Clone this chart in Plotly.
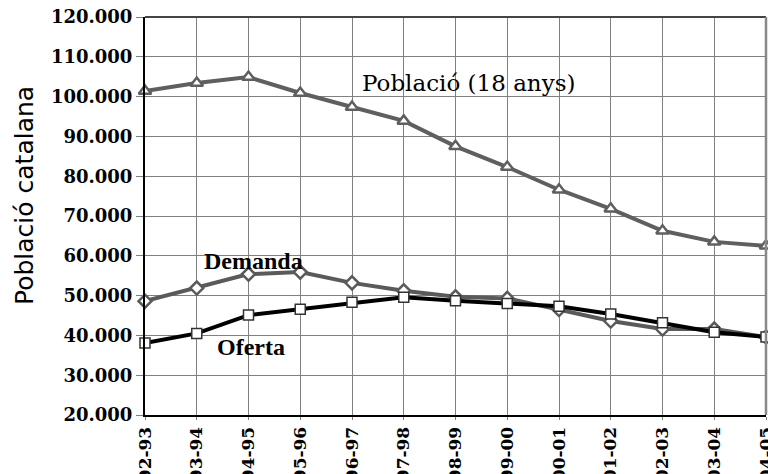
import plotly.graph_objects as go

cursos = ["92-93", "93-94", "94-95", "95-96", "96-97", "97-98", "98-99",
          "99-00", "00-01", "01-02", "02-03", "03-04", "04-05"]
poblacio = [101400, 103400, 104900, 100900, 97400, 93900, 87500,
            82300, 76600, 71800, 66300, 63500, 62500]
demanda = [48600, 51900, 55400, 55900, 53200, 51200, 49700,
           49300, 46500, 43600, 41600, 41600, 39600]
oferta = [38100, 40500, 45100, 46600, 48300, 49600, 48700,
          48000, 47300, 45400, 43200, 40800, 39600]

fig = go.Figure()
fig.add_trace(go.Scatter(
    x=cursos, y=poblacio, mode="lines+markers", name="Població (18 anys)",
    line=dict(color="#5f5f5f", width=4),
    marker=dict(symbol="triangle-up", size=11, color="white",
                line=dict(color="#5f5f5f", width=2.5)),
    cliponaxis=False))
fig.add_trace(go.Scatter(
    x=cursos, y=demanda, mode="lines+markers", name="Demanda",
    line=dict(color="#5a5a5a", width=4),
    marker=dict(symbol="diamond", size=10, color="white",
                line=dict(color="#5a5a5a", width=2.5)),
    cliponaxis=False))
fig.add_trace(go.Scatter(
    x=cursos, y=oferta, mode="lines+markers", name="Oferta",
    line=dict(color="#000000", width=4),
    marker=dict(symbol="square", size=10, color="white",
                line=dict(color="#333333", width=1.5)),
    cliponaxis=False))

fig.update_layout(
    width=768, height=474,
    margin=dict(l=145, r=2, t=17, b=59),
    paper_bgcolor="white", plot_bgcolor="white",
    showlegend=False,
    separators=",.",
    xaxis=dict(
        type="category", range=[0, 12], automargin=False,
        showgrid=True, gridcolor="#808080", gridwidth=1,
        showline=True, linecolor="#000000", linewidth=2, mirror=False,
        ticks="outside", ticklen=3, tickcolor="#808080",
        tickangle=-90,
        tickfont=dict(family="DejaVu Serif", size=17, color="black", weight="bold"),
    ),
    yaxis=dict(
        range=[20000, 120000], dtick=10000, tickformat=",.0f", automargin=False,
        showgrid=True, gridcolor="#808080", gridwidth=1,
        showline=True, linecolor="#000000", linewidth=2,
        ticks="outside", ticklen=7, tickcolor="#808080",
        tickfont=dict(family="DejaVu Serif", size=18, color="black", weight="bold"),
        zeroline=False,
    ),
    shapes=[
        dict(type="line", xref="paper", yref="paper", x0=0, x1=1, y0=1, y1=1,
             line=dict(color="#444444", width=2)),
        dict(type="line", xref="paper", yref="paper", x0=1, x1=1, y0=0, y1=1,
             line=dict(color="#888888", width=2.5)),
    ],
    annotations=[
        dict(text="Població catalana", xref="paper", yref="paper",
             x=(24 - 145) / 621, y=(415 - 196) / 398, textangle=-90,
             showarrow=False, xanchor="center", yanchor="middle",
             font=dict(family="DejaVu Sans", size=25, color="black")),
        dict(text="Població (18 anys)", xref="x", yref="y",
             x=(468 - 145) / 51.75, y=103300, showarrow=False,
             xanchor="center", yanchor="middle",
             font=dict(family="DejaVu Serif", size=23, color="black")),
        dict(text="Demanda", xref="x", yref="y",
             x=(253 - 145) / 51.75, y=58700, showarrow=False,
             xanchor="center", yanchor="middle",
             font=dict(family="Liberation Serif", size=24, color="black", weight="bold")),
        dict(text="Oferta", xref="x", yref="y",
             x=(251 - 145) / 51.75, y=37100, showarrow=False,
             xanchor="center", yanchor="middle",
             font=dict(family="Liberation Serif", size=24, color="black", weight="bold")),
    ],
)

fig.write_html(
    "out.html",
    config={"displayModeBar": False},
    post_script="document.body.style.margin='0';document.body.style.overflow='hidden';",
)
